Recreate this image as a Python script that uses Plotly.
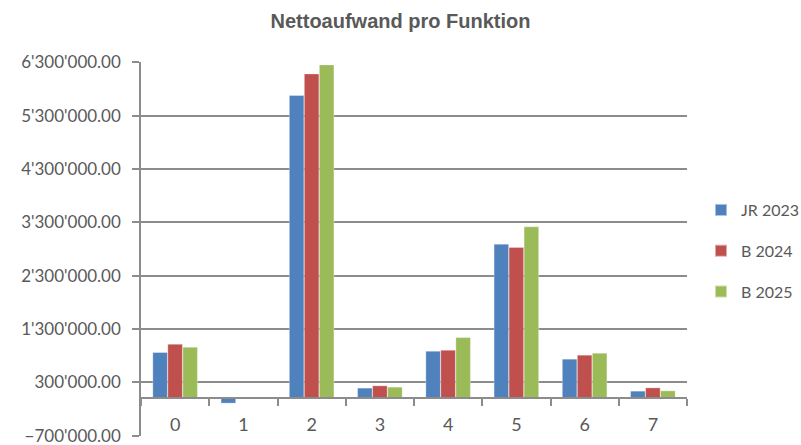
import plotly.graph_objects as go

categories = ["0", "1", "2", "3", "4", "5", "6", "7"]
series_names = ["JR 2023", "B 2024", "B 2025"]
jr_2023 = [860000, -88000, 5676000, 193000, 884000, 2890000, 735000, 136000]
b_2024 = [1015000, 5000, 6080000, 236000, 903000, 2830000, 810000, 198000]
b_2025 = [959000, 24000, 6250000, 211000, 1140000, 3215000, 847000, 142000]
colors = ["#4F81BD", "#C0504D", "#9BBB59"]

y_min, y_max, y_step = -700000, 6300000, 1000000

fig = go.Figure()
for name, vals, col in zip(series_names, [jr_2023, b_2024, b_2025], colors):
    fig.add_trace(go.Bar(
        x=categories, y=vals, name=name, legendgroup=name,
        marker=dict(color=col, line=dict(color="rgba(255,255,255,0.5)", width=0.6)),
    ))

grey = "#8C8C8C"
text_grey = "#595959"
pad = 4000
zero_pos = (0 - (y_min - pad)) / (y_max + pad - (y_min - pad))

fig.update_layout(
    width=801, height=445,
    margin=dict(l=141, r=114, t=62, b=9),
    plot_bgcolor="white", paper_bgcolor="white",
    separators=".'",
    barmode="group", bargap=0.34, bargroupgap=0.03,
    title=dict(text="<b>Nettoaufwand pro Funktion</b>", x=0.5, xanchor="center",
               y=1 - 21 / 445, yanchor="middle",
               font=dict(family="Liberation Sans, Arial", size=20, color=text_grey)),
    font=dict(family="Lato, Open Sans", color=text_grey),
    legend=dict(xref="container", yref="container", x=701 / 801, y=1 - 251 / 445,
                xanchor="left", yanchor="middle",
                font=dict(size=16, color=text_grey), tracegroupgap=17,
                traceorder="grouped",
                itemsizing="constant", bgcolor="rgba(0,0,0,0)"),
    showlegend=True,
    xaxis=dict(
        type="category", anchor="free", position=zero_pos, automargin=False,
        showline=True, linecolor=grey, linewidth=1.5,
        ticks="outside", ticklen=7, tickcolor=grey, tickwidth=1.5,
        tickson="boundaries", showgrid=False,
        tickfont=dict(size=18, color=text_grey),
        ticklabelstandoff=10,
    ),
    yaxis=dict(
        range=[y_min - pad, y_max + pad], tick0=y_min, dtick=y_step, automargin=False,
        tickformat=",.2f", ticklabeloverflow="allow",
        showline=True, linecolor=grey, linewidth=1.5,
        ticks="outside", ticklen=7, tickcolor=grey, tickwidth=1.5,
        showgrid=True, gridcolor=grey, gridwidth=1.5,
        zeroline=False,
        tickfont=dict(size=17, color=text_grey),
        ticklabelstandoff=8,
    ),
)

fig.write_html("out.html", config={"displayModeBar": False},
               post_script="document.body.style.margin='0';")
